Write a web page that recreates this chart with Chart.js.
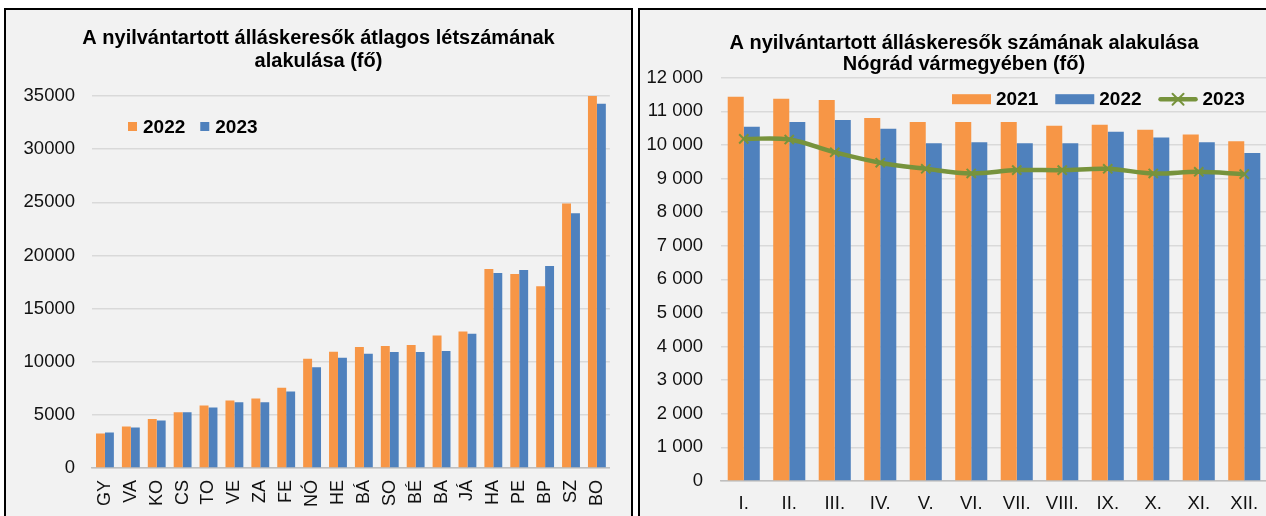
<!DOCTYPE html>
<html>
<head>
<meta charset="utf-8">
<script src="https://cdn.jsdelivr.net/npm/chart.js@4/dist/chart.umd.min.js"></script>
<style>
  html, body { margin: 0; padding: 0; background: #fff; overflow: hidden; width: 1266px; height: 516px; }
  .panel { position: absolute; top: 8px; border: 2px solid #000; background: #f2f2f2; }
  #leftPanel { left: 4px; }
  #rightPanel { left: 638px; }
  canvas { display: block; }
</style>
</head>
<body>
<div class="panel" id="leftPanel"><canvas id="countyChart" width="625" height="516"></canvas></div>
<div class="panel" id="rightPanel"><canvas id="monthChart" width="648" height="516"></canvas></div>
<script>
// ---------------------------------------------
// Adatok
// ---------------------------------------------
const counties = ['GY', 'VA', 'KO', 'CS', 'TO', 'VE', 'ZA', 'FE', 'NÓ', 'HE',
                  'BÁ', 'SO', 'BÉ', 'BA', 'JÁ', 'HA', 'PE', 'BP', 'SZ', 'BO'];
const avg2022 = [3240, 3900, 4620, 5250, 5880, 6350, 6540, 7550, 10280, 10940,
                 11380, 11480, 11570, 12470, 12840, 18720, 18250, 17090, 24880, 35000];
const avg2023 = [3330, 3800, 4470, 5250, 5690, 6190, 6190, 7200, 9470, 10380,
                 10750, 10910, 10910, 11000, 12620, 18340, 18620, 19000, 23970, 34260];
const countyTicks = [0, 5000, 10000, 15000, 20000, 25000, 30000, 35000];

const months = ['I.', 'II.', 'III.', 'IV.', 'V.', 'VI.', 'VII.', 'VIII.', 'IX.', 'X.', 'XI.', 'XII.'];
const nograd2021 = [11430, 11370, 11340, 10800, 10680, 10680, 10680, 10570, 10600, 10450, 10310, 10110];
const nograd2022 = [10540, 10680, 10740, 10480, 10050, 10080, 10050, 10050, 10390, 10220, 10080, 9760];
const nograd2023 = [10180, 10160, 9780, 9470, 9290, 9150, 9250, 9250, 9290, 9150, 9200, 9130];
const monthTicks = [0, 1000, 2000, 3000, 4000, 5000, 6000, 7000, 8000, 9000, 10000, 11000, 12000];

const ORANGE = '#F79646';
const BLUE = '#4F81BD';
const GREEN = '#77933C';
const FONT = '"Liberation Sans", Arial, sans-serif';

Chart.defaults.font.family = FONT;
Chart.defaults.color = '#111';

// Cím a teljes panel közepén (a beépített cím a jobb margó miatt elcsúszna)
const panelTitle = {
  id: 'panelTitle',
  afterDraw(chart, args, opts) {
    const ctx = chart.ctx;
    ctx.save();
    ctx.font = 'bold 20px ' + FONT;
    ctx.fillStyle = '#000';
    ctx.textAlign = 'center';
    ctx.textBaseline = 'middle';
    opts.lines.forEach((line, i) => {
      ctx.fillText(line, chart.width / 2, opts.y + i * opts.step);
    });
    ctx.restore();
  }
};

// Jelmagyarázat a rajzterületen belül
const insideLegend = {
  id: 'insideLegend',
  afterDatasetsDraw(chart, args, opts) {
    const ctx = chart.ctx;
    const area = chart.chartArea;
    let x = area.left + opts.dx;
    const y = area.top + opts.dy;
    ctx.save();
    ctx.font = 'bold 19px ' + FONT;
    ctx.textBaseline = 'middle';
    ctx.textAlign = 'left';
    chart.data.datasets.forEach(ds => {
      if (ds.type === 'line') {
        ctx.strokeStyle = ds.borderColor;
        ctx.lineWidth = 4.5;
        ctx.lineCap = 'round';
        ctx.beginPath();
        ctx.moveTo(x + 2, y);
        ctx.lineTo(x + opts.boxW - 2, y);
        ctx.stroke();
        const cx = x + opts.boxW / 2, r = 5.5;
        ctx.lineWidth = 2;
        ctx.beginPath();
        ctx.moveTo(cx - r, y - r); ctx.lineTo(cx + r, y + r);
        ctx.moveTo(cx - r, y + r); ctx.lineTo(cx + r, y - r);
        ctx.stroke();
      } else {
        ctx.fillStyle = ds.backgroundColor;
        ctx.fillRect(x, y - opts.boxH / 2, opts.boxW, opts.boxH);
      }
      x += opts.boxW + opts.gap;
      ctx.fillStyle = '#000';
      ctx.fillText(ds.label, x, y + 1);
      x += ctx.measureText(ds.label).width + opts.itemGap;
    });
    ctx.restore();
  }
};

function pickTicks(list) {
  return function (scale) {
    scale.ticks = list.map(v => ({ value: v }));
  };
}

// ---------------------------------------------
// 1. Vármegyék szerinti átlagos létszám
// ---------------------------------------------
new Chart(document.getElementById('countyChart'), {
  type: 'bar',
  data: {
    labels: counties,
    datasets: [
      { label: '2022', data: avg2022, backgroundColor: ORANGE },
      { label: '2023', data: avg2023, backgroundColor: BLUE }
    ]
  },
  options: {
    responsive: false,
    animation: false,
    layout: { padding: { left: 0, right: 20, top: 86, bottom: 0 } },
    datasets: { bar: { categoryPercentage: 0.69, barPercentage: 1.0, borderWidth: 0 } },
    plugins: {
      legend: { display: false },
      tooltip: { enabled: false },
      title: { display: false },
      panelTitle: {
        lines: ['A nyilvántartott álláskeresők átlagos létszámának', 'alakulása (fő)'],
        y: 28.5, step: 23
      },
      insideLegend: { dx: 36, dy: 30.5, boxW: 9, boxH: 9, gap: 6, itemGap: 15 }
    },
    scales: {
      x: {
        grid: { display: false, drawTicks: false },
        border: { display: true, color: '#bfbfbf', width: 1.5 },
        ticks: { minRotation: 90, maxRotation: 90, padding: 12, font: { size: 18 } },
        afterFit: s => { s.height = 58; }
      },
      y: {
        min: 0, max: 35000,
        afterBuildTicks: pickTicks(countyTicks),
        grid: { color: '#d9d9d9', lineWidth: 1.5, drawTicks: false },
        border: { display: false },
        ticks: { padding: 17, font: { size: 18.5 }, callback: v => String(v) },
        afterFit: s => { s.width = 86; }
      }
    }
  },
  plugins: [insideLegend, panelTitle]
});

// ---------------------------------------------
// 2. Nógrád vármegye havi adatai
// ---------------------------------------------
const spaced = v => String(v).replace(/\B(?=(\d{3})+(?!\d))/g, ' ');

new Chart(document.getElementById('monthChart'), {
  type: 'bar',
  data: {
    labels: months,
    datasets: [
      { label: '2021', data: nograd2021, backgroundColor: ORANGE, order: 1 },
      { label: '2022', data: nograd2022, backgroundColor: BLUE, order: 1 },
      {
        type: 'line', label: '2023', data: nograd2023, order: 0,
        borderColor: GREEN, backgroundColor: GREEN, borderWidth: 4.5,
        tension: 0.35, pointStyle: 'crossRot', pointRadius: 6.5,
        pointBorderWidth: 2, pointBorderColor: GREEN, fill: false
      }
    ]
  },
  options: {
    responsive: false,
    animation: false,
    layout: { padding: { left: 0, right: 21, top: 67.7, bottom: 0 } },
    datasets: { bar: { categoryPercentage: 0.705, barPercentage: 1.0, borderWidth: 0 } },
    plugins: {
      legend: { display: false },
      tooltip: { enabled: false },
      title: { display: false },
      panelTitle: {
        lines: ['A nyilvántartott álláskeresők számának alakulása', 'Nógrád vármegyében (fő)'],
        y: 33.6, step: 21.3
      },
      insideLegend: { dx: 231, dy: 21.5, boxW: 39, boxH: 10, gap: 5, itemGap: 17 }
    },
    scales: {
      x: {
        grid: { display: false, drawTicks: false },
        border: { display: true, color: '#bfbfbf', width: 1.5 },
        ticks: { maxRotation: 0, padding: 12, font: { size: 18.5 } },
        afterFit: s => { s.height = 45; }
      },
      y: {
        min: 0, max: 12000,
        afterBuildTicks: pickTicks(monthTicks),
        grid: { color: '#d9d9d9', lineWidth: 1.5, drawTicks: false },
        border: { display: false },
        ticks: { padding: 18, font: { size: 18.5 }, callback: v => spaced(v) },
        afterFit: s => { s.width = 81; }
      }
    }
  },
  plugins: [insideLegend, panelTitle]
});
</script>
</body>
</html>
